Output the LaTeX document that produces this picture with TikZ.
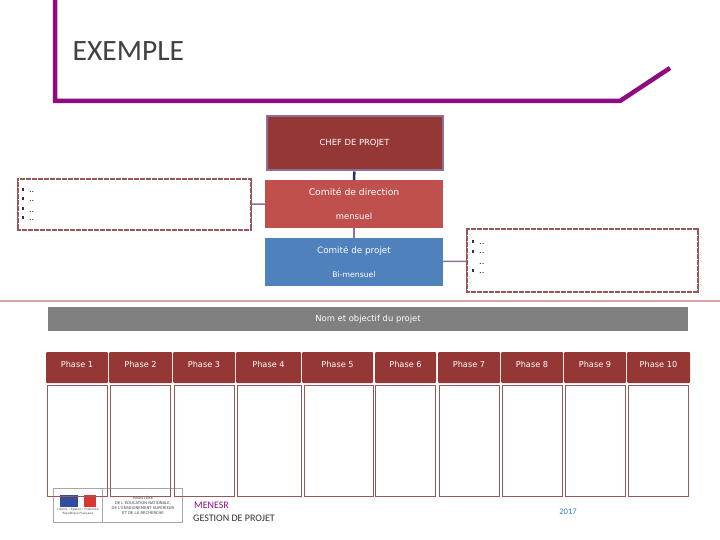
\documentclass[tikz,border=0pt]{standalone}
\usepackage{fontspec}
\setmainfont{DejaVu Sans}
\newfontfamily\titlefont{Carlito}
\usetikzlibrary{arrows.meta,calc,fit,positioning}
\definecolor{violet}{HTML}{8E0B80}
\definecolor{chef}{HTML}{953735}
\definecolor{direction}{HTML}{C0504D}
\definecolor{projet}{HTML}{4F81BD}
\definecolor{cadre}{HTML}{95595A}
\definecolor{lien}{HTML}{8E6F97}
\definecolor{filet}{HTML}{D5A5A5}
\definecolor{turquoise}{HTML}{31859C}
\definecolor{puce}{HTML}{2C2C6E}
\definecolor{drapeaubleu}{HTML}{2F4E9E}
\definecolor{drapeaurouge}{HTML}{D9362F}
\tikzset{
  bloc/.style={inner sep=0pt,text=white,align=center,font=\fontsize{8.5pt}{10pt}\selectfont},
  phasebox/.style={bloc,fill=chef,rounded corners=1pt,font=\fontsize{8.2pt}{10pt}\selectfont},
  corpsbox/.style={draw=cadre,line width=0.9pt,inner sep=0pt},
  notebox/.style={draw=cadre,line width=1.4pt,dash pattern=on 0.6pt off 0.6pt,fill=white,inner sep=0pt},
  cotebox/.style={cadre,line width=1.4pt},
  puceitem/.style={fill=puce,inner sep=0pt,minimum width=2pt,minimum height=3pt},
  pointitem/.style={inner sep=0pt,font=\fontsize{8pt}{9pt}\selectfont}
}
\begin{document}
\begin{tikzpicture}[x=1pt,y=-1pt]
  \useasboundingbox[fill=white] (0,0) rectangle (720,540);
  \draw[violet,line width=4.5pt] (55,0) -- (55,101) -- (620,101) -- (670,68);
  \node[anchor=west,inner sep=0pt,text=black!75,font=\titlefont\fontsize{29.5pt}{32pt}\selectfont] (titre) at (72.5,51) {EXEMPLE};
  \draw[filet,line width=1.5pt] (0,301) -- (720,301);

  \node[bloc,fill=chef,draw=lien,line width=2pt,minimum width=176pt,minimum height=54pt,font=\fontsize{8.4pt}{9pt}\selectfont] (chefprojet) at (354.5,143.5) {CHEF DE PROJET};
  \node[bloc,fill=direction,minimum width=178pt,minimum height=48pt] (comdir) at (354,204) {{\fontsize{9.2pt}{10pt}\selectfont Comité de direction}\\[13.5pt]mensuel};
  \node[bloc,fill=projet,minimum width=178pt,minimum height=48pt] (comprojet) at (354,262) {{\fontsize{8.8pt}{10pt}\selectfont Comité de projet}\\[13.5pt]{\fontsize{7.7pt}{9pt}\selectfont Bi-mensuel}};
  \node[notebox,minimum width=233pt,minimum height=51pt] (notedir) at (134.5,204.5) {};
  \node[notebox,minimum width=231pt,minimum height=63pt] (noteprojet) at (582.5,260.5) {};
  \draw[cotebox] (notedir.north west) -- (notedir.south west);
  \draw[cotebox] (notedir.north east) -- (notedir.south east);
  \draw[cotebox] (noteprojet.north west) -- (noteprojet.south west);
  \draw[cotebox] (noteprojet.north east) -- (noteprojet.south east);
  \draw[puce,line width=2.5pt] (chefprojet) -- (comdir);
  \draw[lien,line width=2.5pt] (comdir) -- (comprojet);
  \draw[lien,line width=1.5pt] (notedir) -- (comdir);
  \draw[lien,line width=1.5pt] (comprojet) -- (noteprojet);

  \foreach \i/\y in {1/190,2/199,3/209,4/218}{
    \node[puceitem] (pucedir\i) at (23,\y) {};
    \node[pointitem,anchor=base west] (pointdir\i) at (29,\y+3) {..};
  }
  \foreach \i/\y/\c in {1/241/puce,2/251/puce,3/261/white,4/270/puce}{
    \node[puceitem,fill=\c] (puceprojet\i) at (473,\y) {};
    \node[pointitem,anchor=base west] (pointprojet\i) at (479,\y+3) {..};
  }

  \node[bloc,fill=black!50,minimum width=640pt,minimum height=24pt,font=\fontsize{8.4pt}{9pt}\selectfont] (objectif) at (368,319) {Nom et objectif du projet};

  \draw[black!35,fill=white,line width=0.7pt] (53,488) rectangle (182,522);
  \draw[black!35,line width=0.7pt] (102,488) -- (102,522);
  \fill[drapeaubleu] (60,495) rectangle (78,507);
  \fill[drapeaurouge] (84,495) rectangle (96,507);
  \node[inner sep=0pt,align=center,text=black!70,font=\fontsize{2.9pt}{4.8pt}\selectfont] (republique) at (78,511.5) {Liberté • Égalité • Fraternité\\République Française};
  \node[inner sep=0pt,align=center,text=black!75,font=\fontsize{3.8pt}{5pt}\selectfont] (ministere) at (143,505.5) {MINISTÈRE\\DE L'ÉDUCATION NATIONALE,\\DE L'ENSEIGNEMENT SUPÉRIEUR\\ET DE LA RECHERCHE};

  \foreach \i/\xa/\xb/\xc/\xd in {1/46/108/47/107,2/109/172/110/170,3/173/235/174/234,4/236/301/237/301,5/302/373/304/373,6/375/436/375/435,7/438/500/439/499,8/501/563/502/562,9/564/626/565/625,10/627/690/628/688}{
    \node[phasebox,minimum width={\xb-\xa},minimum height=31pt] (phase\i) at ({(\xa+\xb)/2},367.5) {\raisebox{5.5pt}{Phase \i}};
    \node[corpsbox,minimum width={\xd-\xc},minimum height=111pt] (corps\i) at ({(\xc+\xd)/2},440.5) {};
  }

  \node[anchor=west,inner sep=0pt,text=violet,font=\titlefont\fontsize{10pt}{11pt}\selectfont] (menesr) at (194,505) {MENESR};
  \node[anchor=west,inner sep=0pt,text=black!80,font=\titlefont\fontsize{10pt}{11pt}\selectfont] (gestion) at (193,518) {GESTION DE PROJET};
  \node[inner sep=0pt,text=turquoise,font=\titlefont\fontsize{8.5pt}{10pt}\selectfont] (annee) at (568,512) {2017};
\end{tikzpicture}
\end{document}
